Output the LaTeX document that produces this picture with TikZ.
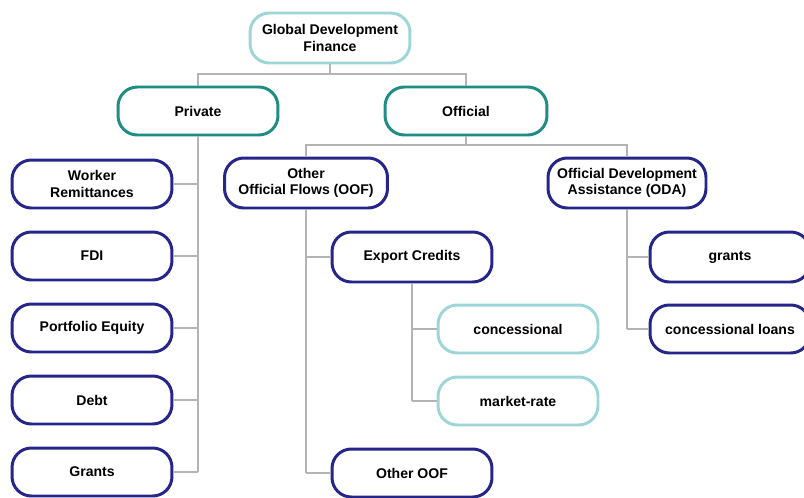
\documentclass[tikz,border=0pt]{standalone}
\usepackage{fontspec}
\setmainfont{Liberation Sans}
\usetikzlibrary{positioning}

\definecolor{tealdark}{HTML}{1F8C86}
\definecolor{teallight}{HTML}{9ED6D8}
\definecolor{navy}{HTML}{25258A}
\definecolor{busgray}{HTML}{B4B4B4}

\begin{document}
\begin{tikzpicture}[x=0.02cm,y=-0.02cm]
   \tikzset{Box/.style={draw=navy, line width=1.7pt, rounded corners=11pt,
       minimum width=3.2cm, minimum height=0.96cm, align=center,
       font=\fontsize{8}{9.4}\selectfont\bfseries, fill=white},
     TopBox/.style={Box, draw=teallight},
     MidBox/.style={Box, draw=tealdark},
     SubBox/.style={Box, draw=teallight},
     Bus/.style={draw=busgray, line width=0.8pt}}
   \useasboundingbox (0,0) rectangle (804,497);
   % top levels
   \node[TopBox, minimum height=1cm] (glob) at (330,38) {Global Development\\Finance};
   \node[MidBox] (priv) at (198,111) {Private};
   \node[MidBox, minimum width=3.24cm] (off) at (466,111) {Official};
   % private flows
   \node[Box] (worker) at (92,184) {Worker\\Remittances};
   \node[Box] (fdi) at (92,256) {FDI};
   \node[Box] (equity) at (92,328) {Portfolio Equity};
   \node[Box] (debt) at (92,400) {Debt};
   \node[Box] (pgrants) at (92,472) {Grants};
   % official flows
   \node[Box, minimum width=3.26cm, minimum height=1cm] (oof) at (306,183) {Other\\Official Flows (OOF)};
   \node[Box, minimum width=3.16cm, minimum height=1cm] (oda) at (627,183) {Official Development\\Assistance (ODA)};
   \node[Box, minimum height=1cm] (export) at (412,257) {Export Credits};
   \node[Box] (otheroof) at (412,473) {Other OOF};
   \node[SubBox] (conc) at (518,329) {concessional};
   \node[SubBox] (market) at (518,401) {market-rate};
   \node[Box, minimum height=1cm] (ogrants) at (730,257) {grants};
   \node[Box] (cloans) at (730,329) {concessional loans};

   \coordinate (tbus) at (330,74);
   \coordinate (obus) at (466,145);

   % connectors
   \draw[Bus] (glob.south) -- (tbus);
   \draw[Bus] (priv.north) |- (tbus) -| (off.north);
   \draw[Bus] (off.south) -- (obus);
   \draw[Bus] (oof.north) |- (obus) -| (oda.north);
   \draw[Bus] (priv.south) -- (priv.south |- pgrants.east);
   \foreach \n in {worker,fdi,equity,debt,pgrants}
      \draw[Bus] (\n.east) -- (priv.south |- \n.east);
   \draw[Bus] (oof.south) -- (oof.south |- otheroof.west);
   \foreach \n in {export,otheroof}
      \draw[Bus] (\n.west) -- (oof.south |- \n.west);
   \draw[Bus] (export.south) -- (export.south |- market.west);
   \foreach \n in {conc,market}
      \draw[Bus] (\n.west) -- (export.south |- \n.west);
   \draw[Bus] (oda.south) -- (oda.south |- cloans.west);
   \foreach \n in {ogrants,cloans}
      \draw[Bus] (\n.west) -- (oda.south |- \n.west);
\end{tikzpicture}
\end{document}
